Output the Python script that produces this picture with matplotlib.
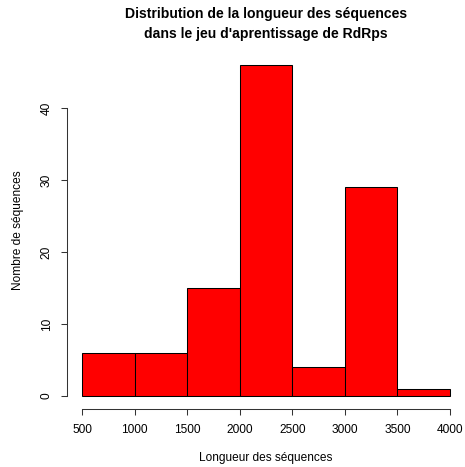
import matplotlib.pyplot as plt
import numpy as np

plt.rcParams['font.family'] = ['Liberation Sans', 'DejaVu Sans']

# Histogram bins and counts
bin_edges = [500, 1000, 1500, 2000, 2500, 3000, 3500, 4000]
counts = [6, 6, 15, 46, 4, 29, 1]
x_ticks = [500, 1000, 1500, 2000, 2500, 3000, 3500, 4000]
y_ticks = [0, 10, 20, 30, 40]

fig = plt.figure(figsize=(4.65, 4.67), dpi=100)
ax = fig.add_axes([0.1447, 0.1238, 0.8546, 0.7657])

lefts = np.array(bin_edges[:-1])
widths = np.diff(bin_edges)
ax.bar(lefts, counts, width=widths, align='edge', color='#ff0000',
       edgecolor='black', linewidth=0.75)

# R style padding (4%)
xr = bin_edges[-1] - bin_edges[0]
ax.set_xlim(bin_edges[0] - 0.04 * xr, bin_edges[-1] + 0.04 * xr)
ymax = max(counts)
ax.set_ylim(-0.04 * ymax, ymax * 1.04)

for s in ['top', 'right']:
    ax.spines[s].set_visible(False)
ax.spines['left'].set_bounds(0, 40)
ax.spines['bottom'].set_bounds(500, 4000)
for s in ['left', 'bottom']:
    ax.spines[s].set_linewidth(0.75)
    ax.spines[s].set_color('#333333')

ax.set_xticks(x_ticks)
ax.set_yticks(y_ticks)
ax.set_yticklabels([str(v) for v in y_ticks], rotation=90, va='center')
ax.tick_params(axis='both', length=4.5, width=0.75, labelsize=8.6, color='#333333')
ax.tick_params(axis='x', pad=6)
ax.tick_params(axis='y', pad=6)

ax.set_xlabel('Longueur des séquences', fontsize=8.6, labelpad=12)
ax.set_ylabel('Nombre de séquences', fontsize=8.6, labelpad=12)
ax.set_title("Distribution de la longueur des séquences\ndans le jeu d'aprentissage de RdRps",
             fontsize=10.1, fontweight='bold', pad=10, linespacing=1.55)

fig.savefig('out.png', dpi=100)
